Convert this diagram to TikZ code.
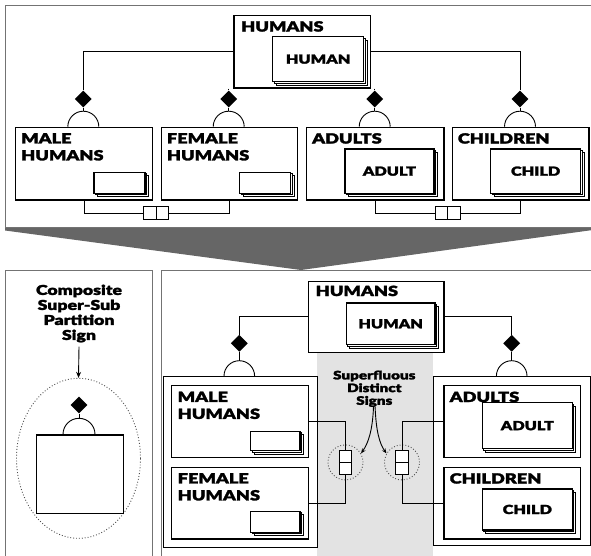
\documentclass[tikz,border=0pt]{standalone}
\usepackage{fontspec}
\setmainfont{Lato}[BoldFont={Lato Black},BoldFeatures={FakeStretch=1.3,FakeBold=2}]
\usetikzlibrary{shapes.geometric,arrows.meta,calc}
% half-circle cap sitting on top of a box: #1 = centre point, #2 = radius
\newcommand\capsign[2]{\draw[link] ($(#1)+(-#2,0)$) arc[start angle=180,end angle=0,radius=#2pt];}
% stacked entity card: name, left, top, width, height, label
\newcommand\entity[6]{%
  \draw[entback] (#2+4,#3+4) rectangle ++(#4,#5);
  \draw[entback] (#2+2,#3+2) rectangle ++(#4,#5);
  \node[ent,minimum width=#4pt,minimum height=#5pt] (#1) at (#2,#3) {#6};}
\begin{document}
\begin{tikzpicture}[x=1pt,y=-1pt,
  panel/.style={draw=black!55,line width=1.6pt},
  box/.style={draw,line width=1.4pt,fill=white,inner sep=0,anchor=north west},
  grp/.style={draw,line width=0.9pt,fill=white,inner sep=0,anchor=north west},
  ent/.style={draw,line width=1.3pt,fill=white,inner sep=0,anchor=north west,
    font=\bfseries\fontsize{12.5}{14}\selectfont},
  entback/.style={draw,fill=white,line width=1pt},
  ttl/.style={font=\bfseries\fontsize{14}{17}\selectfont,align=left,inner sep=0,anchor=north west},
  link/.style={line width=0.9pt},
  kite/.style={diamond,fill=black,inner sep=0,minimum width=17pt,minimum height=17pt},
  cell/.style={draw,line width=0.9pt,fill=white,inner sep=0,minimum size=12.5pt},
  ring/.style={draw=black!70,dotted,line width=0.9pt,circle,inner sep=0,minimum size=35pt},
  note/.style={font=\bfseries\fontsize{11.7}{12.7}\selectfont,align=center,inner sep=0},
  tip/.style={-{Stealth[length=6pt,width=5pt]}}
]
\useasboundingbox (0,0) rectangle (591,555);
\clip (0,0) rectangle (591,555);

% ---------- panels and funnel ----------
\draw[panel] (5.5,5.5) rectangle (600,228);
\fill[black!60] (5,228) -- (600,228) -- (600,229) -- (301,270) -- (5,230.5) -- cycle;
\draw[panel] (5.5,270.5) rectangle (152.5,560);
\draw[panel] (161.5,270.5) rectangle (600,560);

% ---------- upper diagram ----------
\node[box,minimum width=136.7pt,minimum height=72.3pt] (tH) at (233.3,15) {};
\node[ttl] (tHt) at (241,21) {HUMANS};
\entity{tHe}{272}{36}{91}{45}{HUMAN}

\node[box,minimum width=136.7pt,minimum height=72.6pt] (tM) at (15,126.7) {};
\node[ttl] (tMt) at (21,133) {MALE\\HUMANS};
\entity{tMe}{93.3}{171.7}{51}{21}{}

\node[box,minimum width=136pt,minimum height=72.6pt] (tF) at (160.7,126.7) {};
\node[ttl] (tFt) at (166.7,133) {FEMALE\\HUMANS};
\entity{tFe}{239}{171.7}{51}{21}{}

\node[box,minimum width=137.3pt,minimum height=72.6pt] (tA) at (306,126.7) {};
\node[ttl] (tAt) at (312,133) {ADULTS};
\entity{tAe}{344.3}{148.3}{89}{44.4}{ADULT}

\node[box,minimum width=136.6pt,minimum height=72.6pt] (tC) at (451.7,126.7) {};
\node[ttl] (tCt) at (457.7,133) {CHILDREN};
\entity{tCe}{490}{148.3}{90}{44.4}{CHILD}

\node[kite] (kM) at (83.3,99) {};
\node[kite] (kF) at (228.7,99) {};
\node[kite] (kA) at (374.7,99) {};
\node[kite] (kC) at (520,99) {};
\coordinate (aM) at (83.3,126.7);
\coordinate (aF) at (228.7,126.7);
\coordinate (aA) at (374.7,126.7);
\coordinate (aC) at (520,126.7);

\draw[link] (tH.west) -| (kM.north);
\draw[link] (tH.east) -| (kC.north);
\draw[link] (kF.north |- tH.south) -- (kF.north);
\draw[link] (kA.north |- tH.south) -- (kA.north);
\foreach \k/\a in {kM/aM,kF/aF,kA/aA,kC/aC}{
  \draw[link] (\k.south) -- ($(\a)+(0,-15.5)$);
  \capsign{\a}{15.5}
}

\node[cell] (pL1) at (149.8,213) {};
\node[cell] (pL2) at (162.3,213) {};
\node[cell] (pR1) at (441.3,213) {};
\node[cell] (pR2) at (453.8,213) {};
\draw[link] (tM.south) |- (pL1.west);
\draw[link] (pL2.east) -| (tF.south);
\draw[link] (tA.south) |- (pR1.west);
\draw[link] (pR2.east) -| (tC.south);

% ---------- composite sign legend ----------
\node[note,font=\bfseries\fontsize{13.6}{15}\selectfont,anchor=north] (comp) at (79,284.5)
  {Composite\\Super-Sub\\Partition\\Sign};
\node[ellipse,draw=black!70,dotted,line width=0.9pt,minimum width=124pt,minimum height=160pt,inner sep=0]
  (ell) at (78.5,458.3) {};
\draw[link,tip] (comp.south) ++(0,4) -- (ell.north);
\node[kite] (kS) at (79,405) {};
\node[grp,line width=1.2pt,minimum width=86.7pt,minimum height=78.4pt] (sBox) at (36,434.3) {};
\coordinate (aS) at (79,434.3);
\draw[link] (kS.south) -- ($(aS)+(0,-16)$);
\capsign{aS}{16}

% ---------- lower diagram ----------
\fill[black!11] (317.3,353.3) rectangle (433.3,560);
\node[grp,minimum width=154.8pt,minimum height=170.7pt] (gL) at (162.5,376) {};
\node[grp,minimum width=156.7pt,minimum height=169pt] (gR) at (433.3,376) {};

\node[box,minimum width=135.6pt,minimum height=71pt] (bH) at (307.7,280.7) {};
\node[ttl] (bHt) at (315.5,285.5) {HUMANS};
\entity{bHe}{345.7}{302.3}{88.6}{41.7}{HUMAN}

\node[box,minimum width=136.7pt,minimum height=71.7pt] (bM) at (171,385) {};
\node[ttl] (bMt) at (177.5,391.5) {MALE\\HUMANS};
\entity{bMe}{250}{430.7}{49.3}{19.3}{}

\node[box,minimum width=136.7pt,minimum height=71.6pt] (bF) at (171,466.7) {};
\node[ttl] (bFt) at (177.5,473) {FEMALE\\HUMANS};
\entity{bFe}{250}{510.7}{49.3}{21}{}

\node[box,minimum width=136.7pt,minimum height=71.7pt] (bA) at (443.3,385) {};
\node[ttl] (bAt) at (449.5,391.5) {ADULTS};
\entity{bAe}{481.7}{402}{90}{46}{ADULT}

\node[box,minimum width=136.7pt,minimum height=71.6pt] (bC) at (443.3,466.7) {};
\node[ttl] (bCt) at (449.5,473) {CHILDREN};
\entity{bCe}{481.7}{488.3}{90}{41}{CHILD}

\node[kite] (kL) at (239.3,343.3) {};
\node[kite] (kR) at (511.7,343.3) {};
\coordinate (aL) at (239.3,376);
\coordinate (aR) at (511.7,376);
\draw[link] (bH.west) -| (kL.north);
\draw[link] (bH.east) -| (kR.north);
\foreach \k/\a in {kL/aL,kR/aR}{
  \draw[link] (\k.south) -- ($(\a)+(0,-15.3)$);
  \capsign{\a}{15.3}
}

% superfluous distinct signs
\node[ring] (cL) at (345.5,462.4) {};
\node[ring] (cR) at (402,462.4) {};
\node[cell,minimum size=12.3pt] (sL1) at (345.5,456.2) {};
\node[cell,minimum size=12.3pt] (sL2) at (345.5,468.5) {};
\node[cell,minimum size=12.3pt] (sR1) at (402,456.2) {};
\node[cell,minimum size=12.3pt] (sR2) at (402,468.5) {};
\draw[link] (bM.east) -| (sL1.north);
\draw[link] (sL2.south) |- (bF.east);
\draw[link] (bA.west) -| (sR1.north);
\draw[link] (sR2.south) |- (bC.west);

\node[note,anchor=north] (sup) at (374.3,370.5) {Superfluous\\Distinct\\Signs};
\draw[link,-{Stealth[length=5pt,width=4pt]}] ([xshift=-0.8pt]sup.south) .. controls +(-1,24) and +(7,-10) .. (cL.30);
\draw[link,-{Stealth[length=5pt,width=4pt]}] ([xshift=0.8pt]sup.south) .. controls +(1,24) and +(-7,-10) .. (cR.150);
\end{tikzpicture}
\end{document}
